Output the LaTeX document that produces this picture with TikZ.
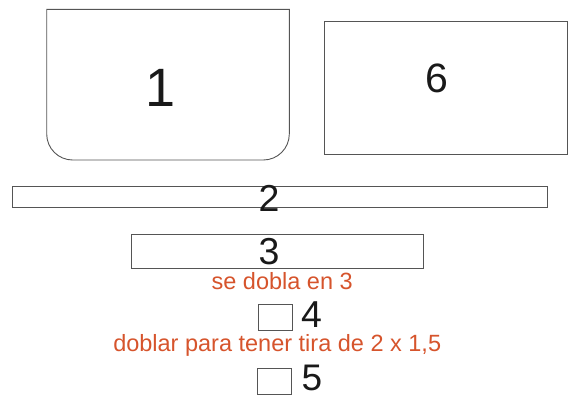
\documentclass[tikz,border=0pt]{standalone}
\usepackage{fontspec}
\setmainfont{Liberation Sans}
\definecolor{edge}{RGB}{85,85,85}
\definecolor{note}{RGB}{214,84,44}
\begin{document}
\begin{tikzpicture}[x=1pt,y=-1pt,
  part/.style={draw=edge,line width=0.9pt},
  box/.style={part,inner sep=0pt,anchor=north west},
  numlabel/.style={inner sep=0pt,text=black!90},
  notelabel/.style={inner sep=0pt,text=note,font=\fontsize{23.5}{23.5}\selectfont,anchor=base}]
\useasboundingbox (0,0) rectangle (570,394);
% piece 1 with rounded bottom corners
\draw[part] (46.7,9.3) -- (46.7,134) arc[start angle=180,end angle=90,radius=26]
  -- (263.3,160) arc[start angle=90,end angle=0,radius=26] -- (289.3,9.3) -- cycle;
\node[numlabel,font=\fontsize{54}{54}\selectfont] (n1) at (161,87.5) {1};
% piece 6
\node[box,minimum width=242.4pt,minimum height=133.3pt] (b6) at (324.3,20.7) {};
\node[numlabel,font=\fontsize{41}{41}\selectfont] (n6) at (436.7,78) {6};
% strip 2
\node[box,minimum width=535pt,minimum height=21.3pt] (b2) at (12.3,185.7) {};
\node[numlabel,font=\fontsize{37.5}{37.5}\selectfont] (n2) at (269,198.7) {2};
% strip 3
\node[box,minimum width=292.5pt,minimum height=33.5pt] (b3) at (130.5,234.3) {};
\node[numlabel,font=\fontsize{37.5}{37.5}\selectfont] (n3) at (269,251.7) {3};
\node[notelabel] (t1) at (282.2,289) {se dobla en 3};
% piece 4
\node[box,minimum width=33.4pt,minimum height=26pt] (b4) at (258.3,304.3) {};
\node[numlabel,font=\fontsize{37.5}{37.5}\selectfont,anchor=base west] (n4) at (301,327.3) {4};
\node[notelabel] (t2) at (277.2,351.7) {doblar para tener tira de 2 x 1,5};
% piece 5
\node[box,minimum width=34pt,minimum height=25.3pt] (b5) at (256.7,368.3) {};
\node[numlabel,font=\fontsize{37}{37}\selectfont,anchor=base west] (n5) at (301.5,390.6) {5};
\end{tikzpicture}
\end{document}
